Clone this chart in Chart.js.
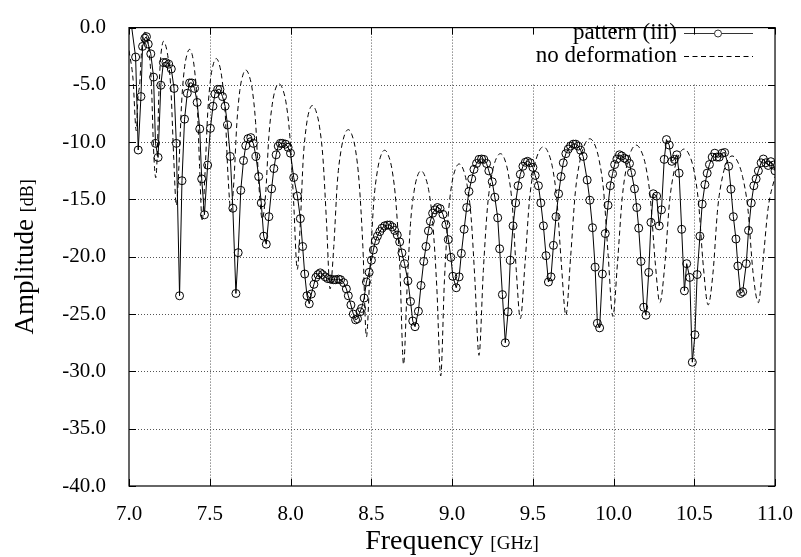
<!DOCTYPE html>
<html>
<head>
<meta charset="utf-8">
<script src="https://cdn.jsdelivr.net/npm/chart.js@4/dist/chart.umd.min.js"></script>
<style>
  html, body { margin: 0; padding: 0; background: #fff; }
  canvas { display: block; }
</style>
</head>
<body>
<canvas id="c" width="801" height="557"></canvas>
<script>
// ---------- data ----------
const seriesLabels = ["pattern (iii)", "no deformation"];
const xTicks = [7.0, 7.5, 8.0, 8.5, 9.0, 9.5, 10.0, 10.5, 11.0];
const yTicks = [0.0, -5.0, -10.0, -15.0, -20.0, -25.0, -30.0, -35.0, -40.0];

const freqPattern = [
  7.000, 7.041, 7.057, 7.074, 7.084, 7.098, 7.108, 7.119, 7.135, 7.152,
  7.164, 7.180, 7.197, 7.213, 7.229, 7.246, 7.262, 7.279, 7.293, 7.313,
  7.328, 7.344, 7.361, 7.375, 7.389, 7.406, 7.422, 7.438, 7.450, 7.467,
  7.487, 7.504, 7.520, 7.532, 7.549, 7.563, 7.579, 7.595, 7.610, 7.627,
  7.643, 7.662, 7.676, 7.692, 7.709, 7.723, 7.737, 7.754, 7.770, 7.786,
  7.803, 7.819, 7.834, 7.850, 7.866, 7.883, 7.897, 7.911, 7.924, 7.937,
  7.950, 7.969, 7.985, 8.000, 8.020, 8.043, 8.061, 8.075, 8.088, 8.102,
  8.116, 8.129, 8.145, 8.157, 8.170, 8.184, 8.198, 8.215, 8.230, 8.247,
  8.266, 8.280, 8.297, 8.310, 8.329, 8.346, 8.358, 8.374, 8.389, 8.403,
  8.415, 8.430, 8.440, 8.456, 8.470, 8.487, 8.501, 8.513, 8.526, 8.538,
  8.553, 8.567, 8.583, 8.600, 8.615, 8.630, 8.645, 8.661, 8.676, 8.690,
  8.706, 8.727, 8.743, 8.757, 8.771, 8.792, 8.808, 8.825, 8.839, 8.854,
  8.866, 8.880, 8.895, 8.910, 8.926, 8.944, 8.962, 8.977, 8.993, 9.005,
  9.026, 9.044, 9.058, 9.075, 9.091, 9.105, 9.122, 9.136, 9.152, 9.167,
  9.183, 9.197, 9.214, 9.228, 9.249, 9.265, 9.283, 9.295, 9.312, 9.330,
  9.347, 9.361, 9.378, 9.394, 9.409, 9.423, 9.439, 9.454, 9.468, 9.484,
  9.501, 9.515, 9.535, 9.550, 9.566, 9.582, 9.597, 9.613, 9.628, 9.644,
  9.660, 9.675, 9.689, 9.705, 9.720, 9.734, 9.751, 9.766, 9.781, 9.796,
  9.812, 9.837, 9.853, 9.870, 9.886, 9.900, 9.914, 9.931, 9.949, 9.966,
  9.980, 9.994, 10.007, 10.021, 10.037, 10.051, 10.068, 10.082, 10.099, 10.111,
  10.130, 10.144, 10.156, 10.170, 10.187, 10.201, 10.218, 10.232, 10.246, 10.267,
  10.283, 10.297, 10.314, 10.328, 10.345, 10.361, 10.377, 10.392, 10.406, 10.422,
  10.439, 10.453, 10.472, 10.488, 10.504, 10.518, 10.535, 10.549, 10.566, 10.580,
  10.594, 10.611, 10.627, 10.640, 10.655, 10.672, 10.688, 10.713, 10.727, 10.742,
  10.758, 10.770, 10.786, 10.800, 10.822, 10.836, 10.853, 10.869, 10.883, 10.897,
  10.914, 10.928, 10.943, 10.958, 10.974, 10.990, 11.000
];
const ampPattern = [
  1.8, -2.57, -10.68, -6.02, -1.64, -0.93, -0.79, -1.44, -2.29, -4.32,
  -10.1, -11.33, -5.03, -3.05, -3.05, -3.19, -3.61, -5.31, -10.1, -23.4,
  -13.36, -7.99, -5.73, -4.83, -4.83, -5.31, -6.53, -8.84, -13.2, -16.33,
  -12.0, -8.79, -6.86, -5.79, -5.39, -5.39, -6.02, -6.86, -8.5, -11.24,
  -15.76, -23.2, -19.64, -14.2, -11.6, -10.3, -9.69, -9.6, -10.1, -11.24,
  -13.0, -15.3, -18.2, -18.9, -16.5, -14.07, -12.3, -11.1, -10.34, -10.1,
  -10.1, -10.17, -10.45, -10.96, -13.08, -14.7, -16.67, -19.1, -21.5, -23.4,
  -24.1, -23.25, -22.4, -21.8, -21.55, -21.4, -21.55, -21.75, -21.9, -21.95,
  -22.0, -22.0, -21.95, -22.0, -22.26, -22.8, -23.4, -24.2, -25.0, -25.5,
  -25.4, -24.8, -24.5, -23.6, -22.2, -21.36, -20.3, -19.4, -18.6, -18.2,
  -17.8, -17.5, -17.3, -17.23, -17.23, -17.4, -17.7, -18.1, -18.7, -19.66,
  -20.6, -22.1, -23.9, -25.6, -26.1, -24.75, -22.5, -20.4, -19.1, -17.74,
  -16.9, -16.2, -15.9, -15.7, -15.8, -16.3, -17.2, -18.5, -20.05, -21.7,
  -22.7, -21.75, -19.7, -17.6, -15.7, -14.3, -13.2, -12.37, -11.86, -11.5,
  -11.47, -11.5, -11.86, -12.5, -13.45, -14.8, -16.6, -19.3, -23.3, -27.5,
  -24.8, -20.3, -17.3, -15.3, -13.8, -12.8, -12.1, -11.75, -11.67, -11.8,
  -12.2, -12.9, -13.8, -15.3, -17.3, -19.9, -22.2, -21.75, -19.0, -16.5,
  -14.5, -13.0, -11.8, -11.0, -10.6, -10.34, -10.17, -10.17, -10.34, -10.7,
  -11.24, -13.3, -15.06, -17.46, -20.9, -25.8, -26.2, -21.5, -17.97, -15.5,
  -13.8, -12.75, -11.95, -11.47, -11.1, -11.2, -11.4, -11.5, -11.86, -12.66,
  -14.07, -15.7, -17.5, -20.4, -24.4, -25.1, -21.36, -17.0, -14.5, -14.7,
  -17.3, -15.9, -11.5, -9.77, -10.25, -11.67, -11.5, -11.1, -12.7, -17.6,
  -22.97, -20.6, -21.8, -29.2, -26.8, -21.55, -18.2, -15.4, -13.7, -12.7,
  -11.95, -11.3, -10.96, -11.3, -11.3, -10.96, -10.9, -12.1, -14.1, -16.5,
  -18.45, -20.8, -23.2, -23.05, -20.6, -17.7, -15.3, -13.8, -13.2, -12.5,
  -11.8, -11.47, -11.8, -12.03, -11.7, -12.0, -12.5
];

const freqNoDef = [
  7.000, 7.025, 7.045, 7.056, 7.066, 7.077, 7.087, 7.098, 7.112, 7.125, 7.139, 7.152, 7.166,
  7.175, 7.185, 7.194, 7.204, 7.213, 7.229, 7.245, 7.261, 7.277, 7.293,
  7.309, 7.326, 7.342, 7.359, 7.375, 7.391, 7.406, 7.422, 7.437, 7.453,
  7.470, 7.488, 7.505, 7.523, 7.540, 7.558, 7.576, 7.595, 7.613, 7.631,
  7.649, 7.668, 7.686, 7.705, 7.723, 7.743, 7.764, 7.784, 7.805, 7.825,
  7.846, 7.866, 7.887, 7.907, 7.928, 7.951, 7.974, 7.996, 8.019, 8.042,
  8.061, 8.079, 8.098, 8.116, 8.135, 8.157, 8.179, 8.201, 8.223, 8.245,
  8.268, 8.290, 8.313, 8.335, 8.358, 8.380, 8.403, 8.425, 8.448, 8.470,
  8.493, 8.515, 8.538, 8.560, 8.583, 8.606, 8.630, 8.653, 8.677, 8.700,
  8.722, 8.743, 8.765, 8.786, 8.808, 8.832, 8.857, 8.881, 8.906, 8.930,
  8.953, 8.976, 8.998, 9.021, 9.044, 9.069, 9.093, 9.118, 9.142, 9.167,
  9.194, 9.220, 9.247, 9.273, 9.300, 9.325, 9.349, 9.374, 9.398, 9.423,
  9.452, 9.480, 9.509, 9.537, 9.566, 9.594, 9.622, 9.649, 9.677, 9.705,
  9.735, 9.764, 9.794, 9.823, 9.853, 9.882, 9.910, 9.939, 9.967, 9.996,
  10.025, 10.054, 10.082, 10.111, 10.140, 10.169, 10.199, 10.228, 10.258, 10.287,
  10.317, 10.347, 10.377, 10.407, 10.437, 10.467, 10.497, 10.526, 10.556, 10.586,
  10.616, 10.645, 10.675, 10.704, 10.734, 10.767, 10.799, 10.832, 10.864, 10.897,
  10.925, 10.957, 11.000
];
const ampNoDef = [
  -2.0, -4.5, -9.0, -6.0, -5.0, -2.2, -0.85, -0.4, -0.85, -2.2, -5.0, -10.6, -13.1,
  -11.0, -5.8, -3.0, -1.65, -1.2, -1.65, -3.0, -5.8, -11.4, -15.5,
  -12.1, -6.5, -3.7, -2.35, -1.9, -2.35, -3.7, -6.5, -12.1, -16.9,
  -12.9, -7.3, -4.5, -3.15, -2.7, -3.15, -4.5, -7.3, -12.9, -16.0,
  -13.5, -8.3, -5.5, -4.15, -3.7, -4.15, -5.5, -8.3, -13.9, -16.7,
  -14.5, -9.5, -6.7, -5.35, -4.9, -5.35, -6.7, -9.5, -15.1, -21.1,
  -17.0, -11.4, -8.6, -7.25, -6.8, -7.25, -8.6, -11.4, -17.0, -22.8,
  -19.1, -13.5, -10.7, -9.35, -8.9, -9.35, -10.7, -13.5, -19.1, -27.0,
  -20.9, -15.3, -12.5, -11.15, -10.7, -11.15, -12.5, -15.3, -20.9, -29.4,
  -22.7, -17.1, -14.3, -12.95, -12.5, -12.95, -14.3, -17.1, -22.7, -30.4,
  -22.1, -16.5, -13.7, -12.35, -11.9, -12.35, -13.7, -16.5, -22.1, -28.6,
  -21.2, -15.6, -12.8, -11.45, -11.0, -11.45, -12.8, -15.6, -21.2, -25.4,
  -20.6, -15.0, -12.2, -10.85, -10.4, -10.85, -12.2, -15.0, -20.6, -25.1,
  -19.9, -14.3, -11.5, -10.15, -9.7, -10.15, -11.5, -14.3, -19.9, -25.2,
  -20.45, -14.85, -12.05, -10.7, -10.25, -10.7, -12.05, -14.85, -20.45, -24.0,
  -20.8, -15.2, -12.4, -11.05, -10.6, -11.05, -12.4, -15.2, -20.8, -24.2,
  -21.4, -15.8, -13.0, -11.65, -11.2, -11.65, -13.0, -15.8, -21.4, -24.0,
  -20.5, -15.8, -13.0
];

// ---------- build ----------
const toPoints = (xs, ys) => xs.map((x, i) => ({ x: x, y: ys[i] }));
const SERIF = "'Liberation Serif', 'DejaVu Serif', serif";

const framePlugin = {
  id: 'gnuplotFrame',
  beforeDatasetsDraw(chart) {
    const { ctx, chartArea: a, scales } = chart;
    ctx.save();
    ctx.strokeStyle = '#555';
    ctx.lineWidth = 1;
    ctx.setLineDash([1, 2]);
    xTicks.forEach(v => {
      const px = Math.round(scales.x.getPixelForValue(v)) + 0.5;
      if (px < a.left + 2 || px > a.right - 2) return;
      ctx.beginPath(); ctx.moveTo(px, a.top); ctx.lineTo(px, a.bottom); ctx.stroke();
    });
    yTicks.forEach(v => {
      const py = Math.round(scales.y.getPixelForValue(v)) + 0.5;
      if (py < a.top + 2 || py > a.bottom - 2) return;
      ctx.beginPath(); ctx.moveTo(a.left, py); ctx.lineTo(a.right, py); ctx.stroke();
    });
    ctx.restore();
  },
  afterDatasetsDraw(chart) {
    const { ctx, chartArea: a, scales } = chart;
    ctx.save();
    // legend (opaque key, no box)
    ctx.fillStyle = '#fff';
    ctx.fillRect(528, a.top + 2, 237, 54);
    ctx.font = '23px ' + SERIF;
    ctx.fillStyle = '#000';
    ctx.textAlign = 'right';
    ctx.textBaseline = 'middle';
    const ds = chart.data.datasets;
    const rows = [33, 56];
    rows.forEach((ry, i) => {
      ctx.fillText(ds[i].label, 677, ry);
      ctx.strokeStyle = i === 0 ? '#333' : '#000';
      ctx.lineWidth = 1;
      ctx.setLineDash(i === 1 ? [5, 3.5] : []);
      ctx.beginPath(); ctx.moveTo(684, ry + 0.5); ctx.lineTo(753, ry + 0.5); ctx.stroke();
      ctx.setLineDash([]);
      if (i === 0) {
        ctx.beginPath(); ctx.arc(718, ry + 0.5, 3.5, 0, Math.PI * 2); ctx.fillStyle = '#fff'; ctx.fill(); ctx.stroke();
        ctx.fillStyle = '#000';
      }
    });
    // frame
    ctx.setLineDash([]);
    ctx.strokeStyle = '#000';
    ctx.lineWidth = 1.2;
    ctx.strokeRect(a.left, a.top, a.right - a.left, a.bottom - a.top);
    // inward ticks
    ctx.lineWidth = 1;
    const tl = 7;
    xTicks.forEach(v => {
      const px = Math.round(scales.x.getPixelForValue(v)) + 0.5;
      ctx.beginPath();
      ctx.moveTo(px, a.bottom); ctx.lineTo(px, a.bottom - tl);
      ctx.moveTo(px, a.top); ctx.lineTo(px, a.top + tl);
      ctx.stroke();
    });
    yTicks.forEach(v => {
      const py = Math.round(scales.y.getPixelForValue(v)) + 0.5;
      ctx.beginPath();
      ctx.moveTo(a.left, py); ctx.lineTo(a.left + tl, py);
      ctx.moveTo(a.right, py); ctx.lineTo(a.right - tl, py);
      ctx.stroke();
    });
    // axis titles
    ctx.fillStyle = '#000';
    ctx.textBaseline = 'alphabetic';
    ctx.textAlign = 'left';
    let big = '28px ' + SERIF, small = '19px ' + SERIF;
    // x title
    ctx.font = big; const w1 = ctx.measureText('Frequency ').width;
    ctx.font = small; const w2 = ctx.measureText('[GHz]').width;
    const cx = (a.left + a.right) / 2;
    let sx = cx - (w1 + w2) / 2;
    ctx.font = big; ctx.fillText('Frequency ', sx, 549);
    ctx.font = small; ctx.fillText('[GHz]', sx + w1, 549);
    // y title
    big = '27px ' + SERIF; small = '18px ' + SERIF;
    ctx.translate(33, (a.top + a.bottom) / 2);
    ctx.rotate(-Math.PI / 2);
    ctx.font = big; const v1 = ctx.measureText('Amplitude ').width;
    ctx.font = small; const v2 = ctx.measureText('[dB]').width;
    sx = -(v1 + v2) / 2;
    ctx.font = big; ctx.fillText('Amplitude ', sx, 0);
    ctx.font = small; ctx.fillText('[dB]', sx + v1, 0);
    ctx.restore();
  }
};

new Chart(document.getElementById('c'), {
  type: 'scatter',
  data: {
    datasets: [
      {
        label: seriesLabels[0],
        data: toPoints(freqPattern, ampPattern),
        showLine: true,
        borderColor: '#000',
        borderWidth: 1,
        pointStyle: 'circle',
        pointRadius: 4,
        pointBorderWidth: 1,
        pointBorderColor: '#000',
        pointBackgroundColor: 'rgba(0,0,0,0)',
        pointHoverRadius: 4,
        tension: 0
      },
      {
        label: seriesLabels[1],
        data: toPoints(freqNoDef, ampNoDef),
        showLine: true,
        borderColor: '#000',
        borderWidth: 1,
        borderDash: [5, 3.5],
        pointRadius: 0,
        cubicInterpolationMode: 'monotone'
      }
    ]
  },
  options: {
    responsive: false,
    animation: false,
    events: [],
    layout: { padding: { top: 14, right: 21, left: 0, bottom: 0 } },
    plugins: { legend: { display: false }, tooltip: { enabled: false } },
    scales: {
      x: {
        type: 'linear', min: 7, max: 11,
        afterFit: s => { s.height = 71; },
        afterBuildTicks: s => { s.ticks = xTicks.map(v => ({ value: v })); },
        ticks: {
          callback: v => Number(v).toFixed(1),
          font: { family: SERIF, size: 21 },
          color: '#000', padding: 8, maxRotation: 0, autoSkip: false
        },
        grid: { display: false },
        border: { display: false }
      },
      y: {
        type: 'linear', min: -40, max: 0,
        afterFit: s => { s.width = 129; },
        afterBuildTicks: s => { s.ticks = yTicks.map(v => ({ value: v })); },
        ticks: {
          callback: v => Number(v).toFixed(1),
          font: { family: SERIF, size: 21 },
          color: '#000', padding: 15, autoSkip: false
        },
        grid: { display: false },
        border: { display: false }
      }
    }
  },
  plugins: [framePlugin]
});
</script>
</body>
</html>
